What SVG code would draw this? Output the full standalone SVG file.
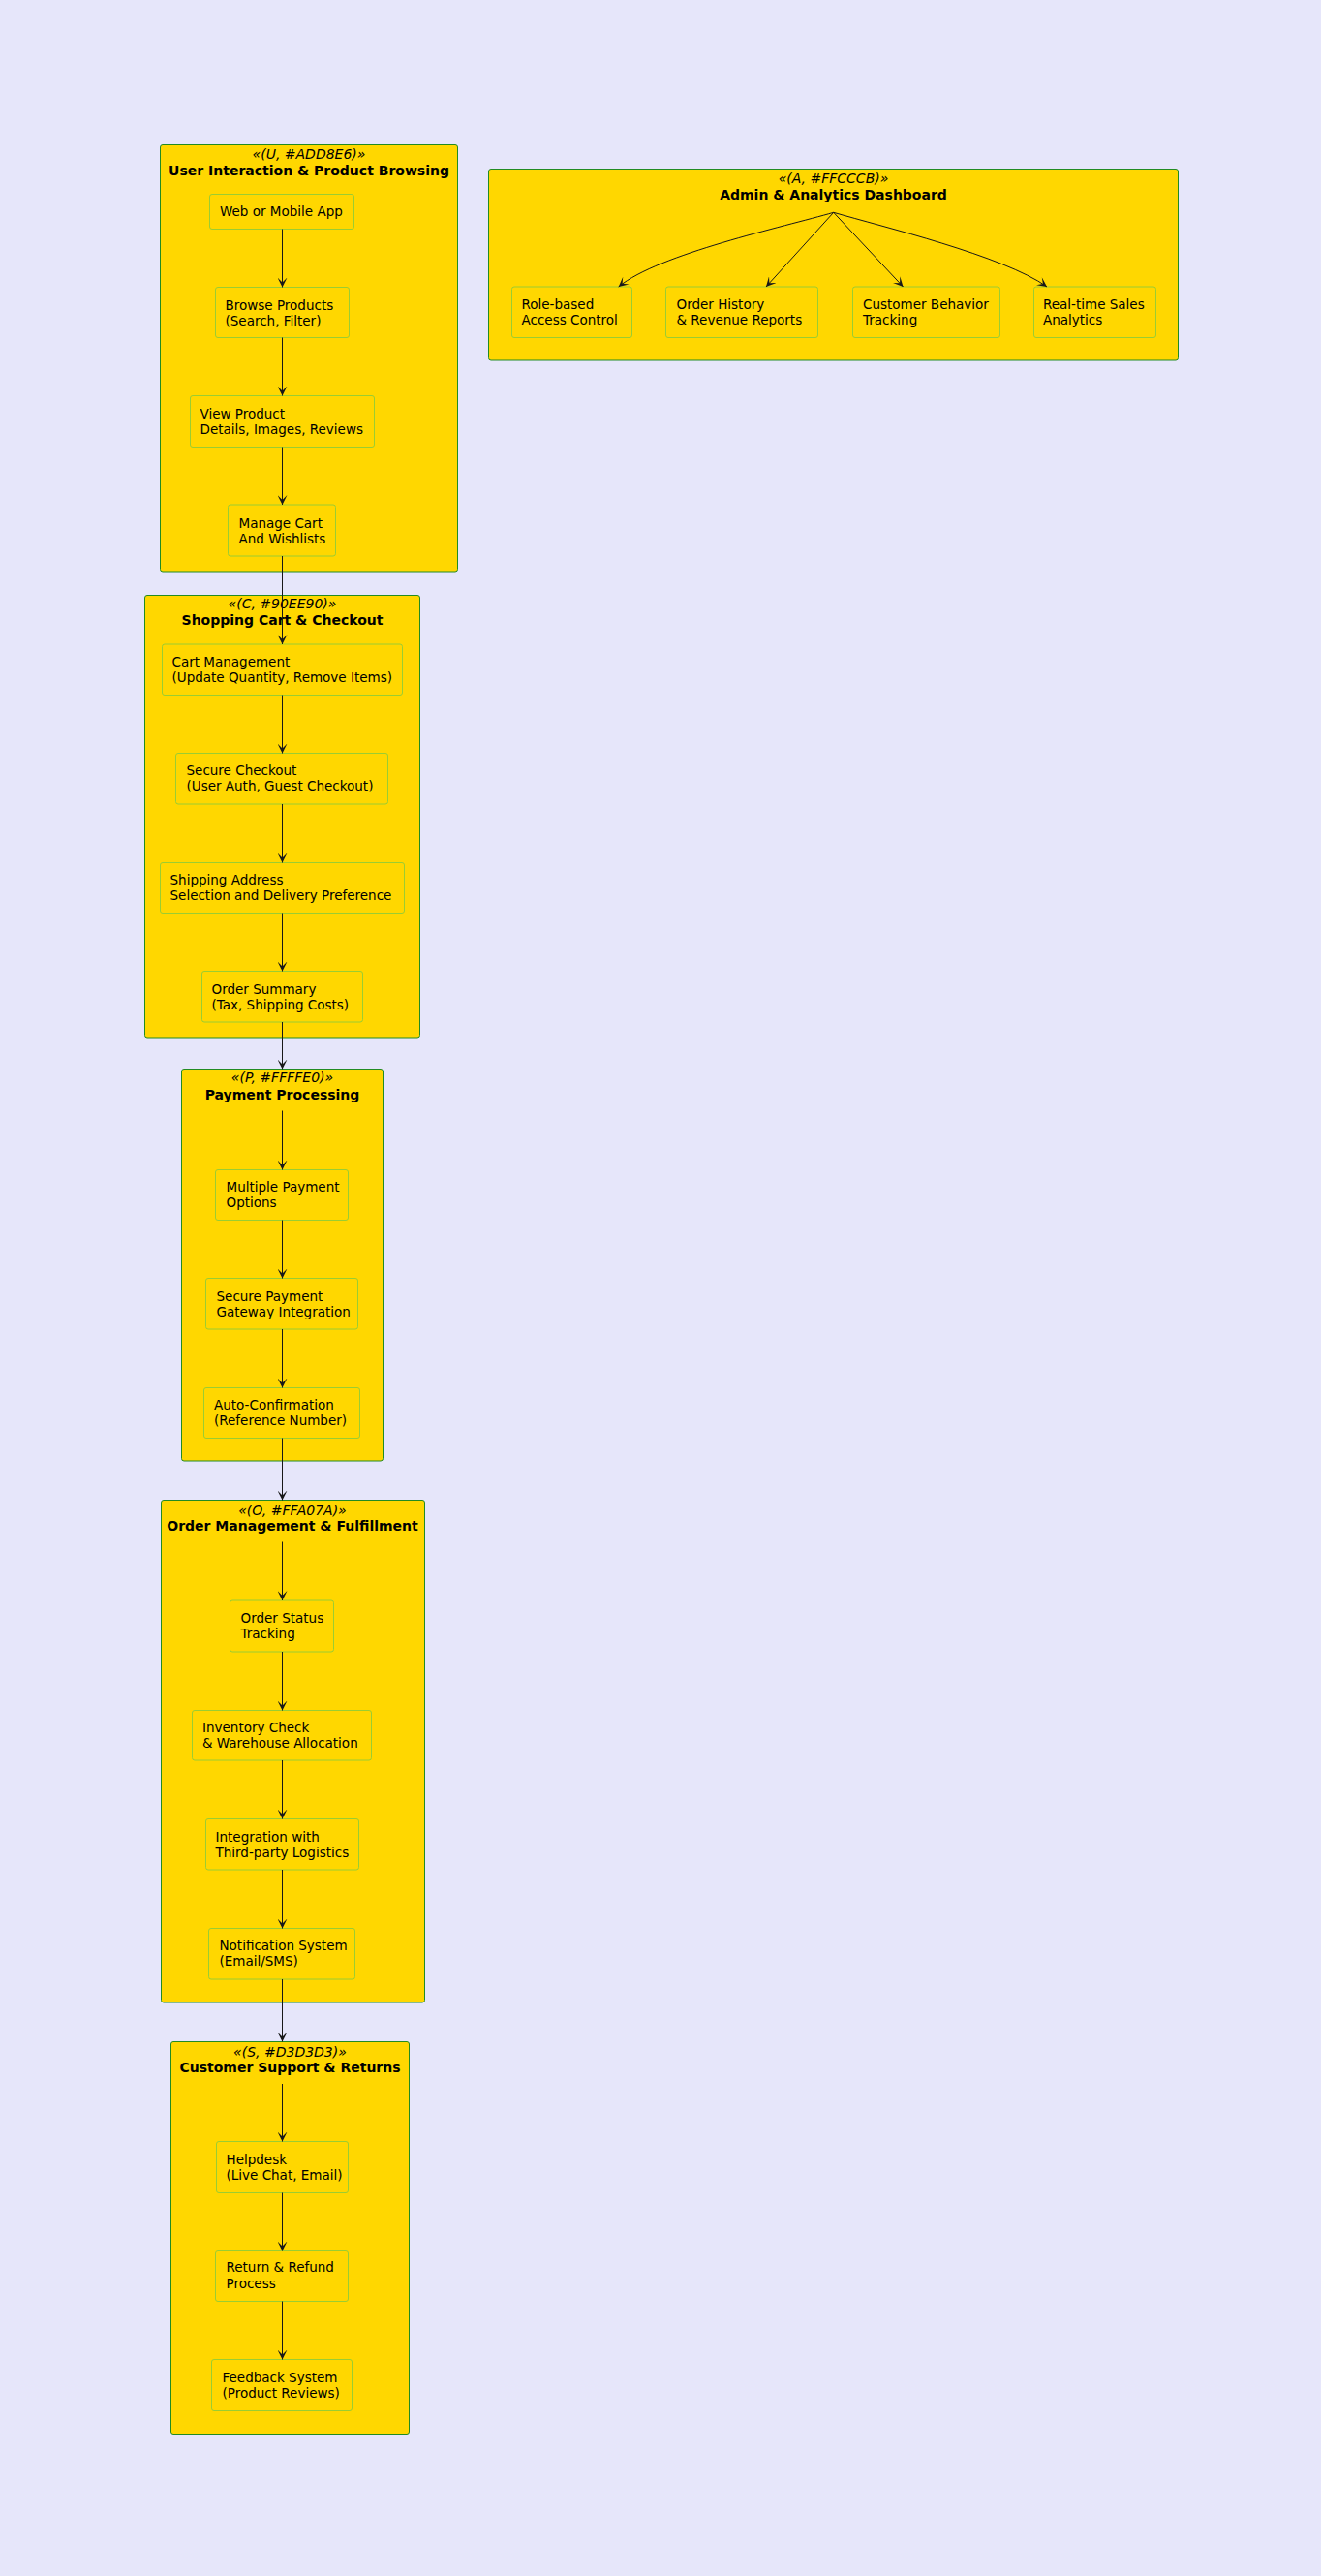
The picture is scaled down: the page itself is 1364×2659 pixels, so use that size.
<svg xmlns="http://www.w3.org/2000/svg" width="1364" height="2659" viewBox="0 0 1364 2659">
  <style>
    .bg { fill: #E6E6FA; }
    .cluster { fill: #FFD700; stroke: #228B22; stroke-width: 1; }
    .node { fill: #FFD700; stroke: #9ACD32; stroke-width: 1; }
    .stereo { font-family: "DejaVu Sans", sans-serif; font-size: 14px; font-style: italic; fill: #000; text-anchor: middle; }
    .title { font-family: "DejaVu Sans", sans-serif; font-size: 14px; font-weight: bold; fill: #000; text-anchor: middle; }
    .label { font-family: "DejaVu Sans", sans-serif; font-size: 13.5px; fill: #000; }
    .edge { fill: none; stroke: #181818; stroke-width: 1; marker-end: url(#ah); }
  </style>
  <defs>
    <marker id="ah" viewBox="0 0 10 10" refX="10" refY="5" markerWidth="10" markerHeight="10" markerUnits="userSpaceOnUse" orient="auto">
      <path d="M0,0 L10,5 L0,10 L5,5 Z" fill="#181818"/>
    </marker>
  </defs>

  <rect class="bg" x="0" y="0" width="1364" height="2659"/>

  <!-- Clusters -->
  <g id="cluster-U">
    <rect class="cluster" x="165.5" y="149.5" width="307" height="440.5" rx="2.5"/>
    <text class="stereo" x="319" y="164">«(U, #ADD8E6)»</text>
    <text class="title" x="319" y="180.5">User Interaction &amp; Product Browsing</text>
  </g>
  <g id="cluster-A">
    <rect class="cluster" x="504.5" y="174.5" width="712" height="197.5" rx="2.5"/>
    <text class="stereo" x="860.5" y="188.5">«(A, #FFCCCB)»</text>
    <text class="title" x="860.5" y="205.5">Admin &amp; Analytics Dashboard</text>
  </g>
  <g id="cluster-C">
    <rect class="cluster" x="149.5" y="614.5" width="284" height="456.5" rx="2.5"/>
    <text class="stereo" x="291.5" y="627.5">«(C, #90EE90)»</text>
    <text class="title" x="291.5" y="644.5">Shopping Cart &amp; Checkout</text>
  </g>
  <g id="cluster-P">
    <rect class="cluster" x="187.5" y="1103.5" width="208" height="404.5" rx="2.5"/>
    <text class="stereo" x="291.5" y="1117">«(P, #FFFFE0)»</text>
    <text class="title" x="291.5" y="1134.5">Payment Processing</text>
  </g>
  <g id="cluster-O">
    <rect class="cluster" x="166.5" y="1548.5" width="272" height="518.5" rx="2.5"/>
    <text class="stereo" x="302" y="1563.5">«(O, #FFA07A)»</text>
    <text class="title" x="302" y="1579.5">Order Management &amp; Fulfillment</text>
  </g>
  <g id="cluster-S">
    <rect class="cluster" x="176.5" y="2107.5" width="246" height="405" rx="2.5"/>
    <text class="stereo" x="299.5" y="2122.5">«(S, #D3D3D3)»</text>
    <text class="title" x="299.5" y="2138.5">Customer Support &amp; Returns</text>
  </g>

  <!-- User interaction nodes -->
  <g id="U1">
    <rect class="node" x="216.5" y="200.5" width="149" height="36" rx="2.5"/>
    <text class="label" x="227" y="223">Web or Mobile App</text>
  </g>
  <g id="U2">
    <rect class="node" x="222.5" y="296.5" width="138" height="52" rx="2.5"/>
    <text class="label" x="232.5" y="319.5">Browse Products</text>
    <text class="label" x="232.5" y="335.7">(Search, Filter)</text>
  </g>
  <g id="U3">
    <rect class="node" x="196.5" y="408.5" width="190" height="53" rx="2.5"/>
    <text class="label" x="206.5" y="432">View Product</text>
    <text class="label" x="206.5" y="448.2">Details, Images, Reviews</text>
  </g>
  <g id="U4">
    <rect class="node" x="235.5" y="521" width="111" height="53" rx="2.5"/>
    <text class="label" x="246.5" y="544.5">Manage Cart</text>
    <text class="label" x="246.5" y="560.7">And Wishlists</text>
  </g>

  <!-- Admin nodes -->
  <g id="A1">
    <rect class="node" x="528.5" y="296" width="124" height="52.5" rx="2.5"/>
    <text class="label" x="538.5" y="318.5">Role-based</text>
    <text class="label" x="538.5" y="335">Access Control</text>
  </g>
  <g id="A2">
    <rect class="node" x="687.5" y="296" width="157" height="52.5" rx="2.5"/>
    <text class="label" x="698.5" y="318.5">Order History</text>
    <text class="label" x="698.5" y="335">&amp; Revenue Reports</text>
  </g>
  <g id="A3">
    <rect class="node" x="880.5" y="296" width="152" height="52.5" rx="2.5"/>
    <text class="label" x="891" y="318.5">Customer Behavior</text>
    <text class="label" x="891" y="335">Tracking</text>
  </g>
  <g id="A4">
    <rect class="node" x="1067.5" y="296" width="126" height="52.5" rx="2.5"/>
    <text class="label" x="1077" y="318.5">Real-time Sales</text>
    <text class="label" x="1077" y="335">Analytics</text>
  </g>

  <!-- Cart & checkout nodes -->
  <g id="C1">
    <rect class="node" x="167.5" y="665" width="248" height="52.5" rx="2.5"/>
    <text class="label" x="177.5" y="687.5">Cart Management</text>
    <text class="label" x="177.5" y="703.5">(Update Quantity, Remove Items)</text>
  </g>
  <g id="C2">
    <rect class="node" x="181.5" y="777.5" width="219" height="52.5" rx="2.5"/>
    <text class="label" x="192.5" y="800">Secure Checkout</text>
    <text class="label" x="192.5" y="816.2">(User Auth, Guest Checkout)</text>
  </g>
  <g id="C3">
    <rect class="node" x="165.5" y="890.5" width="252" height="52" rx="2.5"/>
    <text class="label" x="175.5" y="913">Shipping Address</text>
    <text class="label" x="175.5" y="929.2">Selection and Delivery Preference</text>
  </g>
  <g id="C4">
    <rect class="node" x="208.5" y="1002.5" width="166" height="52.5" rx="2.5"/>
    <text class="label" x="218.5" y="1025.5">Order Summary</text>
    <text class="label" x="218.5" y="1041.7">(Tax, Shipping Costs)</text>
  </g>

  <!-- Payment nodes -->
  <g id="P1">
    <rect class="node" x="222.5" y="1207.5" width="137" height="52" rx="2.5"/>
    <text class="label" x="233.5" y="1229.5">Multiple Payment</text>
    <text class="label" x="233.5" y="1245.5">Options</text>
  </g>
  <g id="P2">
    <rect class="node" x="212.5" y="1319.5" width="157" height="52.5" rx="2.5"/>
    <text class="label" x="223.5" y="1342.5">Secure Payment</text>
    <text class="label" x="223.5" y="1358.5">Gateway Integration</text>
  </g>
  <g id="P3">
    <rect class="node" x="210.5" y="1432.5" width="161" height="52" rx="2.5"/>
    <text class="label" x="221" y="1455">Auto-Confirmation</text>
    <text class="label" x="221" y="1471.2">(Reference Number)</text>
  </g>

  <!-- Order management nodes -->
  <g id="O1">
    <rect class="node" x="237.5" y="1652" width="107" height="53" rx="2.5"/>
    <text class="label" x="248.5" y="1675">Order Status</text>
    <text class="label" x="248.5" y="1691.3">Tracking</text>
  </g>
  <g id="O2">
    <rect class="node" x="198.5" y="1765.5" width="185" height="51.5" rx="2.5"/>
    <text class="label" x="209" y="1788">Inventory Check</text>
    <text class="label" x="209" y="1804.3">&amp; Warehouse Allocation</text>
  </g>
  <g id="O3">
    <rect class="node" x="212.5" y="1877.5" width="158" height="52.5" rx="2.5"/>
    <text class="label" x="222.5" y="1900.5">Integration with</text>
    <text class="label" x="222.5" y="1916.8">Third-party Logistics</text>
  </g>
  <g id="O4">
    <rect class="node" x="215.5" y="1990.5" width="151" height="52.5" rx="2.5"/>
    <text class="label" x="226.5" y="2013">Notification System</text>
    <text class="label" x="226.5" y="2029.3">(Email/SMS)</text>
  </g>

  <!-- Support nodes -->
  <g id="S1">
    <rect class="node" x="223.5" y="2210.5" width="136" height="53" rx="2.5"/>
    <text class="label" x="233.5" y="2233.5">Helpdesk</text>
    <text class="label" x="233.5" y="2249.5">(Live Chat, Email)</text>
  </g>
  <g id="S2">
    <rect class="node" x="222.5" y="2323.5" width="137" height="52" rx="2.5"/>
    <text class="label" x="233.5" y="2345.3">Return &amp; Refund</text>
    <text class="label" x="233.5" y="2361.5">Process</text>
  </g>
  <g id="S3">
    <rect class="node" x="218.5" y="2435.5" width="145" height="53" rx="2.5"/>
    <text class="label" x="229.5" y="2458.5">Feedback System</text>
    <text class="label" x="229.5" y="2474.5">(Product Reviews)</text>
  </g>

  <!-- Connectors -->
  <g id="edges">
    <path class="edge" d="M291.5,236.5 L291.5,296.5"/>
    <path class="edge" d="M291.5,348.5 L291.5,408.5"/>
    <path class="edge" d="M291.5,461.5 L291.5,521"/>
    <path class="edge" d="M291.5,574 L291.5,665"/>
    <path class="edge" d="M291.5,717.5 L291.5,777.5"/>
    <path class="edge" d="M291.5,830 L291.5,890.5"/>
    <path class="edge" d="M291.5,942.5 L291.5,1002.5"/>
    <path class="edge" d="M291.5,1055 L291.5,1103.5"/>
    <path class="edge" d="M291.5,1146.5 L291.5,1207.5"/>
    <path class="edge" d="M291.5,1259.5 L291.5,1319.5"/>
    <path class="edge" d="M291.5,1372 L291.5,1432.5"/>
    <path class="edge" d="M291.5,1484.5 L291.5,1548.5"/>
    <path class="edge" d="M291.5,1591.5 L291.5,1652"/>
    <path class="edge" d="M291.5,1705 L291.5,1765.5"/>
    <path class="edge" d="M291.5,1817 L291.5,1877.5"/>
    <path class="edge" d="M291.5,1930 L291.5,1990.5"/>
    <path class="edge" d="M291.5,2043 L291.5,2107.5"/>
    <path class="edge" d="M291.5,2151 L291.5,2210.5"/>
    <path class="edge" d="M291.5,2263.5 L291.5,2323.5"/>
    <path class="edge" d="M291.5,2375.5 L291.5,2435.5"/>
    <path class="edge" d="M860.7,219.3 C810,234 680,262 638.7,296"/>
    <path class="edge" d="M860.7,219.3 L791,296"/>
    <path class="edge" d="M860.7,219.3 L932.5,296"/>
    <path class="edge" d="M860.7,219.3 C911,234 1036,264 1081,296"/>
  </g>
</svg>
